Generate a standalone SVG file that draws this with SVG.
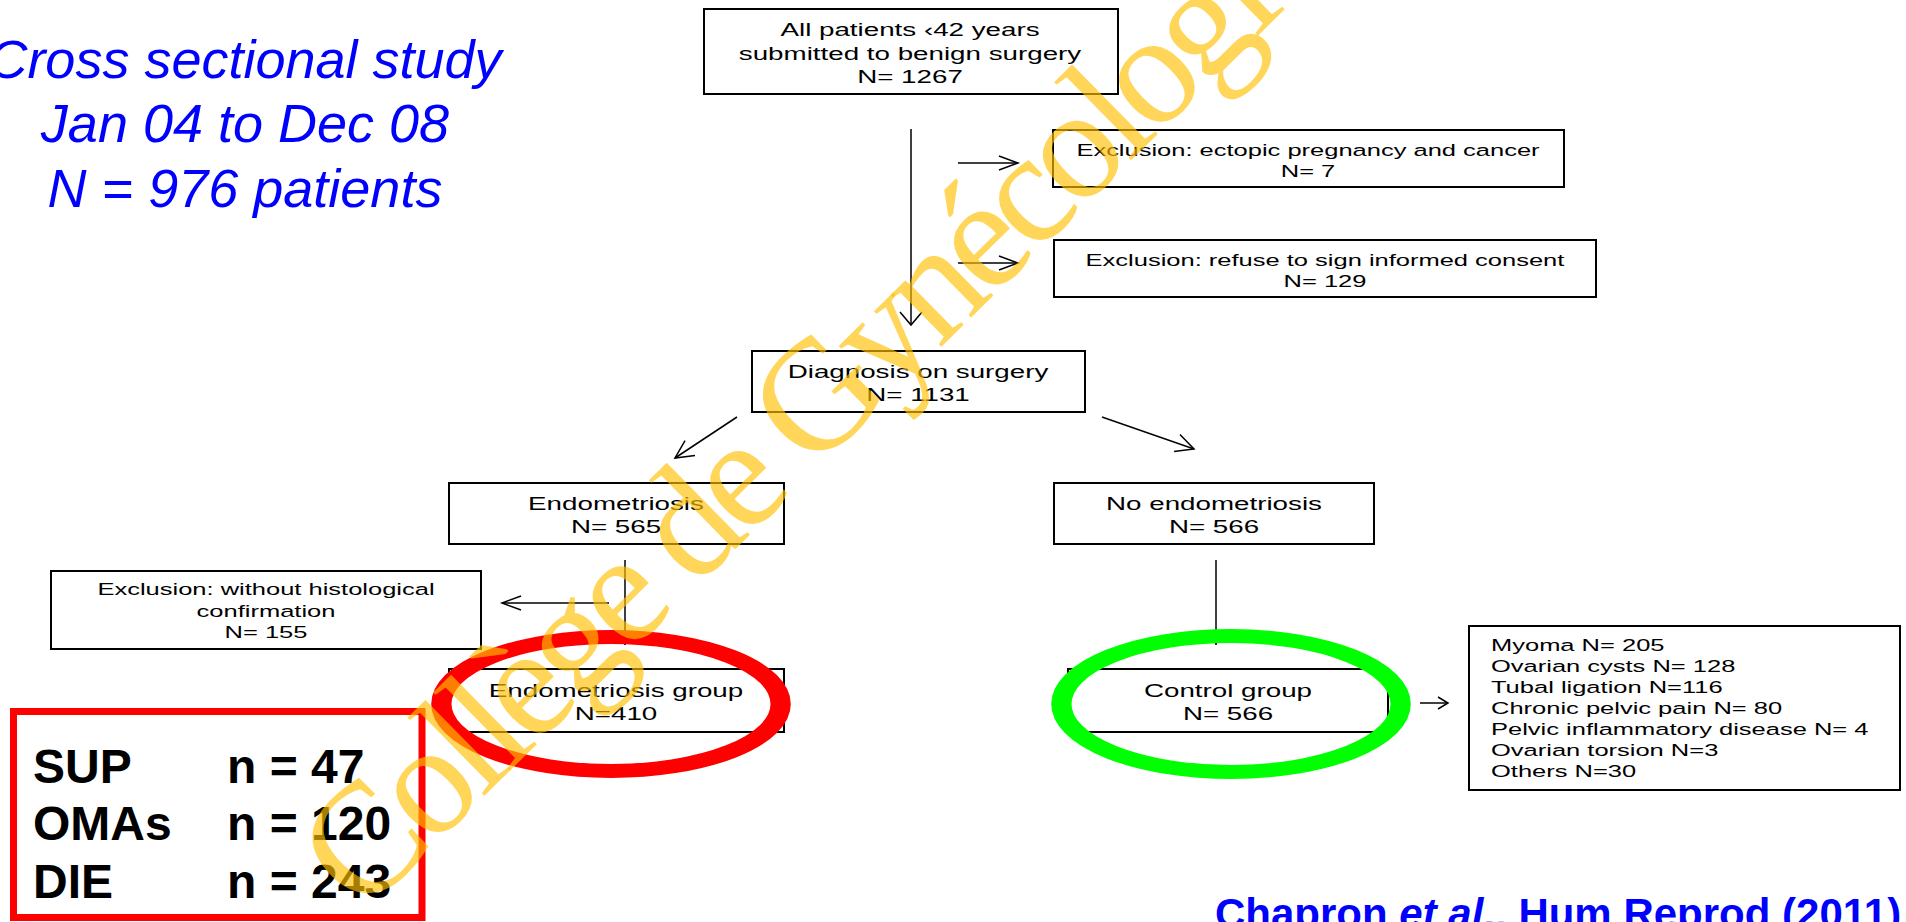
<svg xmlns="http://www.w3.org/2000/svg" width="1906" height="922" viewBox="0 0 1906 922">
<style>
.box{fill:#fff;stroke:#000;stroke-width:2}
.ln{fill:none;stroke:#000;stroke-width:1.5}
.t{font-family:"Liberation Sans",Arial,sans-serif;font-size:18.5px;fill:#000}
.s{font-family:"Liberation Sans",Arial,sans-serif;font-size:17px;fill:#000}
.title{font-family:"Liberation Sans",Arial,sans-serif;font-size:54px;font-style:italic;fill:#0000FF}
.big{font-family:"Liberation Sans",Arial,sans-serif;font-size:48px;font-weight:bold;fill:#000}
.cite{font-family:"Liberation Sans",Arial,sans-serif;font-size:42px;font-weight:bold;fill:#0000FF}
.wm{font-family:"Liberation Serif","Times New Roman",serif;font-size:158px;letter-spacing:-8px;fill:#FFC000;fill-opacity:0.65}
</style>
<defs>
<marker id="aw" markerUnits="userSpaceOnUse" markerWidth="30" markerHeight="30" viewBox="-20 -15 22 30" refX="0" refY="0" orient="auto"><path d="M-13,-11 L0,0 L-13,11" fill="none" stroke="#000" stroke-width="1.5"/></marker>
<marker id="ad" markerUnits="userSpaceOnUse" markerWidth="30" markerHeight="30" viewBox="-22 -15 24 30" refX="0" refY="0" orient="auto"><path d="M-18,-9 L0,0 L-18,9" fill="none" stroke="#000" stroke-width="1.5"/></marker>
<marker id="an" markerUnits="userSpaceOnUse" markerWidth="30" markerHeight="30" viewBox="-22 -15 24 30" refX="0" refY="0" orient="auto"><path d="M-19,-7 L0,0 L-19,7" fill="none" stroke="#000" stroke-width="1.5"/></marker>
<marker id="as" markerUnits="userSpaceOnUse" markerWidth="20" markerHeight="20" viewBox="-12 -10 14 20" refX="0" refY="0" orient="auto"><path d="M-10,-6 L0,0 L-10,6" fill="none" stroke="#000" stroke-width="1.5"/></marker>
<marker id="at" markerUnits="userSpaceOnUse" markerWidth="10" markerHeight="10" viewBox="-5 -5 6 10" refX="0" refY="0" orient="auto"><path d="M-4,-2.5 L0,0 L-4,2.5 Z" fill="#000"/></marker>
</defs>

<g id="title">
<text class="title" text-anchor="middle"><tspan x="245" y="78">Cross sectional study</tspan><tspan x="245" y="142">Jan 04 to Dec 08</tspan><tspan x="245" y="207">N = 976 patients</tspan></text>
</g>

<g id="connectors">
<line class="ln" x1="911" y1="129" x2="911" y2="325" marker-end="url(#aw)"/>
<line class="ln" x1="958" y1="163" x2="1018" y2="163" marker-end="url(#an)"/>
<line class="ln" x1="958" y1="263" x2="1018" y2="263" marker-end="url(#an)"/>
<line class="ln" x1="737" y1="417" x2="675" y2="458" marker-end="url(#ad)"/>
<line class="ln" x1="1102" y1="417" x2="1194" y2="449" marker-end="url(#ad)"/>
<line class="ln" x1="625" y1="560" x2="625" y2="645" marker-end="url(#at)"/>
<line class="ln" x1="609" y1="603" x2="502" y2="603" marker-end="url(#an)"/>
<line class="ln" x1="1216" y1="560" x2="1216" y2="645" marker-end="url(#at)"/>
<line class="ln" x1="1420" y1="703" x2="1448" y2="703" marker-end="url(#as)"/>
</g>

<g id="n-all">
<rect class="box" x="704" y="9" width="414" height="85"/>
<text class="t" text-anchor="middle" transform="translate(910 0) scale(1.5 1)"><tspan x="0" y="36">All patients ‹42 years</tspan><tspan x="0" y="60">submitted to benign surgery</tspan><tspan x="0" y="83">N= 1267</tspan></text>
</g>

<g id="n-excl1">
<rect class="box" x="1053" y="130" width="511" height="57"/>
<text class="s" text-anchor="middle" transform="translate(1308 0) scale(1.5 1)"><tspan x="0" y="156">Exclusion: ectopic pregnancy and cancer</tspan><tspan x="0" y="177">N= 7</tspan></text>
</g>

<g id="n-excl2">
<rect class="box" x="1054" y="240" width="542" height="57"/>
<text class="s" text-anchor="middle" transform="translate(1325 0) scale(1.5 1)"><tspan x="0" y="266">Exclusion: refuse to sign  informed consent</tspan><tspan x="0" y="287">N= 129</tspan></text>
</g>

<g id="n-diag">
<rect class="box" x="752" y="351" width="333" height="61"/>
<text class="t" text-anchor="middle" transform="translate(918 0) scale(1.5 1)"><tspan x="0" y="378">Diagnosis on surgery</tspan><tspan x="0" y="401">N= 1131</tspan></text>
</g>

<g id="n-endo">
<rect class="box" x="449" y="483" width="335" height="61"/>
<text class="t" text-anchor="middle" transform="translate(616 0) scale(1.5 1)"><tspan x="0" y="510">Endometriosis</tspan><tspan x="0" y="533">N= 565</tspan></text>
</g>

<g id="n-noendo">
<rect class="box" x="1054" y="483" width="320" height="61"/>
<text class="t" text-anchor="middle" transform="translate(1214 0) scale(1.5 1)"><tspan x="0" y="510">No endometriosis</tspan><tspan x="0" y="533">N= 566</tspan></text>
</g>

<g id="n-excl3">
<rect class="box" x="51" y="571" width="430" height="78"/>
<text class="s" text-anchor="middle" transform="translate(266 0) scale(1.5 1)"><tspan x="0" y="595">Exclusion: without histological</tspan><tspan x="0" y="617">confirmation</tspan><tspan x="0" y="638">N= 155</tspan></text>
</g>

<g id="n-endogroup">
<rect class="box" x="449" y="669" width="335" height="63"/>
<text class="t" text-anchor="middle" transform="translate(616 0) scale(1.5 1)"><tspan x="0" y="697">Endometriosis group</tspan><tspan x="0" y="720">N=410</tspan></text>
<ellipse cx="611" cy="704" rx="117" ry="67" transform="translate(611 704) scale(1.45 1) translate(-611 -704)" fill="none" stroke="#FF0000" stroke-width="14"/>
</g>

<g id="n-control">
<rect class="box" x="1068" y="669" width="320" height="63"/>
<text class="t" text-anchor="middle" transform="translate(1228 0) scale(1.5 1)"><tspan x="0" y="697">Control group</tspan><tspan x="0" y="720">N= 566</tspan></text>
<ellipse cx="1231" cy="704" rx="117" ry="68" transform="translate(1231 704) scale(1.45 1) translate(-1231 -704)" fill="none" stroke="#00FF00" stroke-width="14"/>
</g>

<g id="n-list">
<rect class="box" x="1469" y="626" width="431" height="164"/>
<text class="s" transform="translate(1491 0) scale(1.5 1)"><tspan x="0" y="651">Myoma N= 205</tspan><tspan x="0" y="672">Ovarian cysts N= 128</tspan><tspan x="0" y="693">Tubal ligation N=116</tspan><tspan x="0" y="714">Chronic pelvic pain N= 80</tspan><tspan x="0" y="735">Pelvic inflammatory disease N= 4</tspan><tspan x="0" y="756">Ovarian torsion N=3</tspan><tspan x="0" y="777">Others N=30</tspan></text>
</g>

<g id="n-subtypes">
<rect x="13.5" y="711.5" width="408.5" height="206" fill="#fff" stroke="#FF0000" stroke-width="7"/>
<text class="big"><tspan x="33" y="783">SUP</tspan><tspan x="33" y="840">OMAs</tspan><tspan x="33" y="898">DIE</tspan></text>
<text class="big"><tspan x="227" y="783">n = 47</tspan><tspan x="227" y="840">n = 120</tspan><tspan x="227" y="898">n = 243</tspan></text>
</g>

<g id="citation">
<text class="cite" x="1215" y="928">Chapron <tspan font-style="italic">et al</tspan>., Hum Reprod (2011)</text>
</g>

<g id="watermark">
<text class="wm" transform="translate(362 916) rotate(-44.5)" x="0" y="0">Collège de Gynécologie</text>
</g>
</svg>
